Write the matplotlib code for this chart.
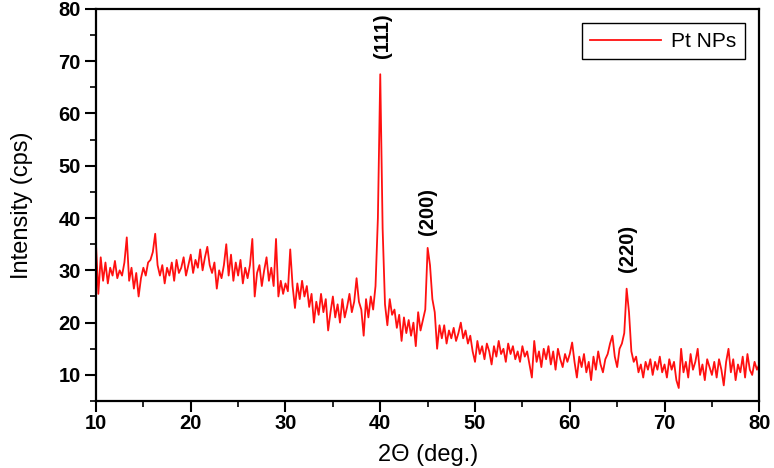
import matplotlib
matplotlib.use("Agg")
import matplotlib.pyplot as plt
import numpy as np
from matplotlib.ticker import MultipleLocator

plt.rcParams['font.family'] = ['Liberation Sans', 'DejaVu Sans']

# 2theta from 10 to 80 deg, step 0.25
two_theta = np.linspace(10, 80, 281)

intensity = [
    # 10 - 19.75
    35.0, 25.5, 32.5, 28.0, 31.5, 27.5, 30.5, 29.0, 31.8, 28.5,
    30.0, 29.0, 31.5, 36.3, 28.0, 30.5, 26.5, 29.5, 25.0, 28.5,
    30.5, 29.0, 31.5, 32.0, 33.5, 37.0, 31.0, 29.0, 31.0, 27.5,
    30.5, 29.0, 31.5, 28.0, 32.0, 29.5, 30.5, 32.5, 29.0, 31.0,
    # 20 - 29.75
    33.0, 29.5, 32.0, 30.5, 34.0, 30.0, 32.5, 34.5, 31.0, 29.5,
    31.5, 26.5, 30.0, 28.5, 31.0, 35.0, 29.0, 33.0, 28.0, 31.5,
    29.0, 32.0, 27.5, 30.5, 28.5, 31.0, 36.0, 25.0, 29.5, 31.0,
    27.0, 30.0, 32.5, 28.0, 30.5, 27.0, 36.0, 25.0, 28.0, 25.5,
    # 30 - 39.75
    27.5, 26.0, 34.0, 27.0, 22.8, 27.5, 24.5, 28.0, 25.0, 27.0,
    23.0, 25.5, 20.0, 24.0, 21.5, 25.5, 22.0, 24.5, 18.5, 22.0,
    25.0, 21.0, 23.5, 20.0, 24.5, 21.0, 23.0, 25.5, 22.0, 24.0,
    28.5, 24.0, 22.5, 17.5, 24.5, 21.0, 25.0, 22.5, 27.0, 40.0,
    # 40 - 49.75
    67.5, 38.0, 23.5, 19.5, 24.5, 21.5, 22.5, 19.0, 21.5, 16.5,
    21.0, 18.0, 20.5, 17.5, 20.0, 15.5, 22.0, 18.5, 20.5, 22.5,
    34.3, 31.0, 24.5, 22.0, 15.0, 19.5, 17.0, 19.5, 16.0, 18.5,
    17.0, 19.0, 16.5, 18.0, 20.0, 17.0, 18.5, 16.0, 17.5, 14.5,
    # 50 - 59.75
    12.5, 16.5, 14.0, 15.5, 13.0, 16.0, 14.5, 12.0, 15.5, 13.5,
    16.5, 14.0, 15.0, 12.5, 16.0, 14.0, 15.5, 13.0, 14.5, 12.5,
    15.5, 13.5, 14.5, 12.0, 9.5, 16.5, 12.5, 14.5, 11.5, 15.0,
    13.0, 15.5, 12.0, 14.5, 11.0, 15.0, 13.0, 11.5, 14.0, 12.5,
    # 60 - 69.75
    14.0, 16.2, 12.5, 9.5, 13.5, 11.5, 14.0, 10.5, 12.5, 9.0,
    13.5, 11.0, 14.5, 12.0, 10.5, 13.0, 14.0, 16.0, 17.5, 13.5,
    11.5, 15.0, 16.0, 18.0, 26.5, 22.0, 14.5, 12.5, 13.5, 10.5,
    12.0, 9.5, 12.5, 11.0, 13.0, 10.0, 12.5, 11.0, 13.5, 10.5,
    # 70 - 80
    12.0, 9.5, 13.0, 11.0, 12.5, 9.0, 7.5, 15.0, 10.5, 12.5,
    9.5, 14.0, 11.0, 12.5, 15.0, 10.0, 12.0, 9.0, 13.0, 11.5,
    10.0, 12.5, 9.5, 13.0, 11.0, 8.0, 12.5, 15.0, 10.5, 13.0,
    9.0, 12.0, 10.5, 13.5, 9.5, 14.0, 11.0, 10.0, 12.5, 11.0,
    12.0,
]

peak_labels = ['(111)', '(200)', '(220)']
peak_pos = [40.2, 45.0, 66.1]
peak_text_y = [74.8, 41.2, 34.1]

fig = plt.figure(figsize=(7.74, 4.68), dpi=100)
ax = fig.add_axes([0.124, 0.143, 0.857, 0.838])

ax.plot(two_theta, intensity, color='#ff1010', lw=1.3, label='Pt NPs')

for lab, xp, yp in zip(peak_labels, peak_pos, peak_text_y):
    ax.text(xp, yp, lab, rotation=90, ha='center', va='center',
            fontsize=14.5, fontweight='bold')

ax.set_xlim(10, 80)
ax.set_ylim(5, 80)
ax.xaxis.set_major_locator(MultipleLocator(10))
ax.xaxis.set_minor_locator(MultipleLocator(5))
ax.yaxis.set_minor_locator(MultipleLocator(5))
ax.set_yticks([10, 20, 30, 40, 50, 60, 70, 80])
ax.tick_params(which='major', direction='out', length=8, width=1.5, labelsize=14.5)
ax.tick_params(axis='x', which='major', pad=1)
ax.tick_params(axis='y', which='major', pad=3)
ax.tick_params(which='minor', direction='out', length=4.5, width=1.2)
for lbl in ax.get_xticklabels() + ax.get_yticklabels():
    lbl.set_fontweight('bold')
for sp in ax.spines.values():
    sp.set_linewidth(1.6)

ax.set_xlabel('2Θ (deg.)', fontsize=17, labelpad=8)
ax.set_ylabel('Intensity (cps)', fontsize=17, labelpad=18)

leg = ax.legend(loc='upper right', fontsize=15, fancybox=False, edgecolor='black',
                framealpha=1, handlelength=3.4, handletextpad=0.5,
                borderaxespad=0.7)
leg.get_frame().set_linewidth(1.0)

fig.savefig('out.png', dpi=100)
